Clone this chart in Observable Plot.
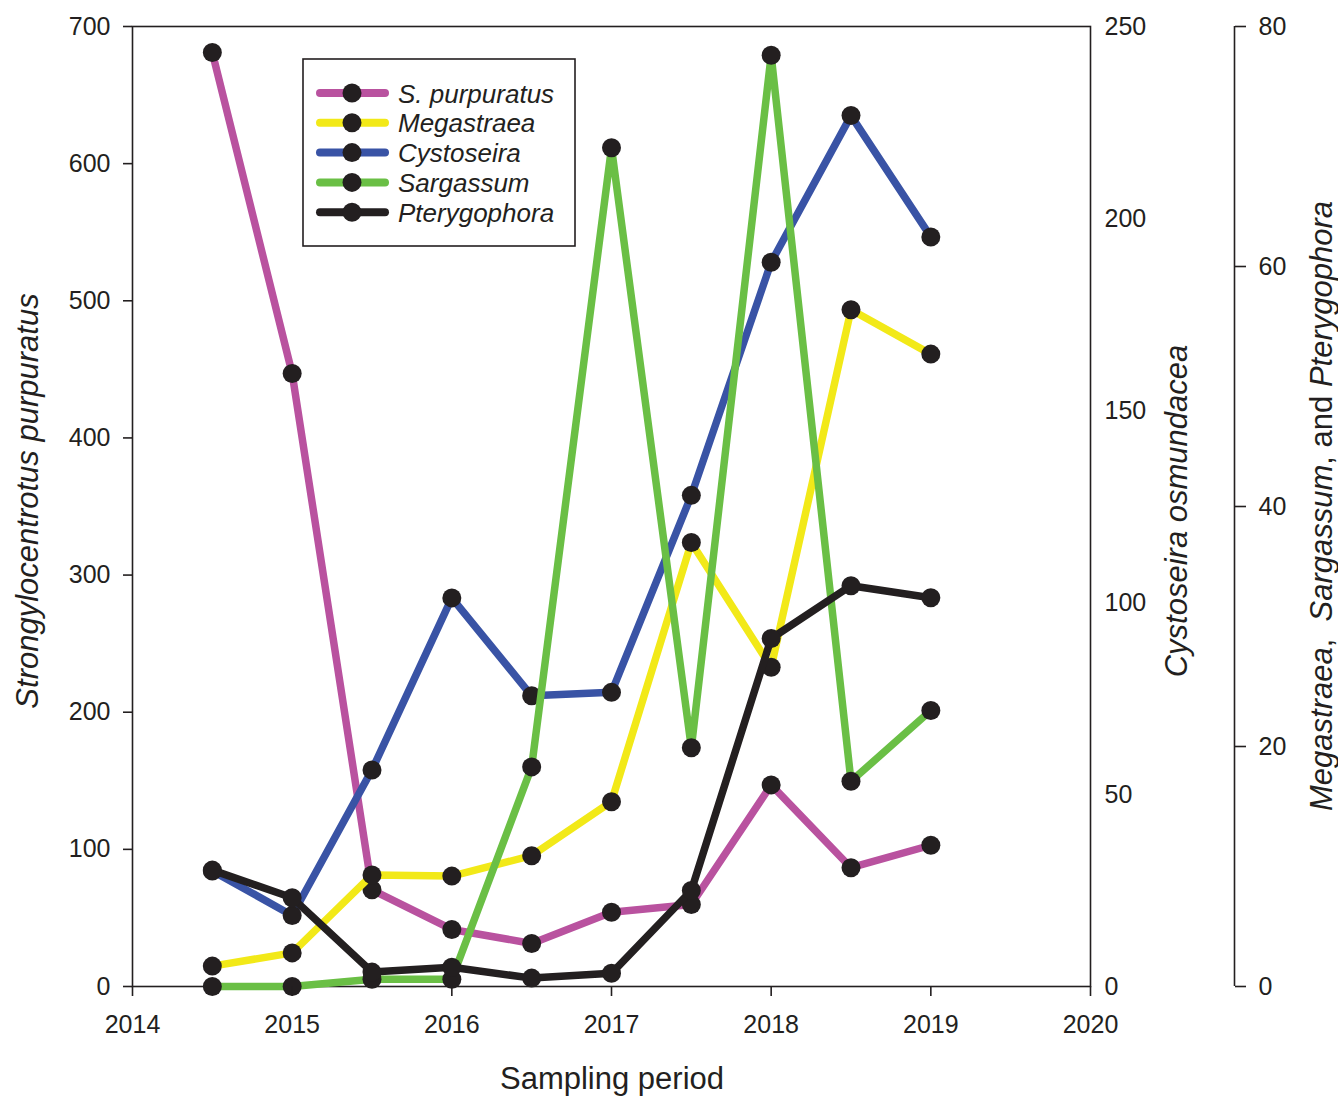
<!DOCTYPE html>
<html><head><meta charset="utf-8">
<script src="https://cdn.jsdelivr.net/npm/d3@7"></script>
<script src="https://cdn.jsdelivr.net/npm/@observablehq/plot@0.6"></script>
<style>
body{margin:0;background:#fff}
#chart svg{font-family:"Liberation Sans",Arial,sans-serif}
</style>
</head><body><div id="chart"></div>
<script>
// ---- data ----
const periods      = [2014.5, 2015, 2015.5, 2016, 2016.5, 2017, 2017.5, 2018, 2018.5, 2019];
const purpuratus   = [681, 447, 70.5, 41.6, 31.4, 54.2, 59.8, 147, 86.6, 103];      // left axis 0-700
const megastraea   = [1.7, 2.8, 9.3, 9.2, 10.9, 15.4, 37.0, 26.6, 56.4, 52.7];      // third axis 0-80
const cystoseira   = [30.1, 18.5, 56.4, 101.2, 75.7, 76.6, 127.9, 188.6, 226.8, 195.2]; // second axis 0-250
const sargassum    = [0, 0, 0.6, 0.6, 18.3, 69.9, 19.9, 77.6, 17.1, 23.0];          // third axis
const pterygophora = [9.7, 7.4, 1.2, 1.6, 0.7, 1.1, 8.0, 29.0, 33.4, 32.4];         // third axis
const xTicks     = [2014, 2015, 2016, 2017, 2018, 2019, 2020];
const leftTicks  = [0, 100, 200, 300, 400, 500, 600, 700];
const cystTicks  = [0, 50, 100, 150, 200, 250];
const thirdTicks = [0, 20, 40, 60, 80];
const seriesNames = ["S. purpuratus", "Megastraea", "Cystoseira", "Sargassum", "Pterygophora"];
const seriesColors = ["#B9529F", "#F2E918", "#3953A5", "#6ABF45", "#231F20"];

const LEFT_MAX = 700, CYST_MAX = 250, THIRD_MAX = 80;
const toLeft = (m) => (v) => v * LEFT_MAX / m;
const seriesValues = [purpuratus, megastraea, cystoseira, sargassum, pterygophora];
const seriesMax = [LEFT_MAX, THIRD_MAX, CYST_MAX, THIRD_MAX, THIRD_MAX];

const rows = [];
seriesNames.forEach((name, i) => {
  seriesValues[i].forEach((v, j) => rows.push({series: name, x: periods[j], v, y: toLeft(seriesMax[i])(v)}));
});

const ink = "#231F20";
const marks = [Plot.frame({stroke: ink, strokeWidth: 1.6})];
seriesNames.forEach((name, i) => {
  const d = rows.filter(r => r.series === name);
  marks.push(Plot.line(d, {x: "x", y: "y", stroke: seriesColors[i], strokeWidth: 7.5, strokeLinejoin: "round"}));
  marks.push(Plot.dot(d, {x: "x", y: "y", r: 9.5, fill: ink, stroke: null}));
});
marks.push(
  Plot.axisY(leftTicks, {anchor: "left", tickSize: 9, tickPadding: 13, fontSize: 25, label: null, stroke: ink, strokeWidth: 1.6}),
  Plot.axisX(xTicks, {anchor: "bottom", tickSize: 10, tickPadding: 19, fontSize: 25, label: null, tickFormat: d => String(d), strokeWidth: 1.6}),
  Plot.axisY(cystTicks.map(toLeft(CYST_MAX)), {anchor: "right", tickSize: 0, tickPadding: 14, fontSize: 25, label: null, tickFormat: d => String(Math.round(d * CYST_MAX / LEFT_MAX))}),
  Plot.ruleX([2020], {dx: 144, y1: 0, y2: LEFT_MAX, stroke: ink, strokeWidth: 1.6}),
  Plot.axisY(thirdTicks.map(toLeft(THIRD_MAX)), {anchor: "right", dx: 144, tickSize: 11, tickPadding: 13, fontSize: 25, label: null, strokeWidth: 1.6, tickFormat: d => String(Math.round(d * THIRD_MAX / LEFT_MAX))})
);

const chart = Plot.plot({
  width: 1338, height: 1097,
  marginLeft: 132, marginRight: 248, marginTop: 26, marginBottom: 111,
  style: {fontFamily: "'Liberation Sans', Arial, sans-serif", fontSize: "25px", color: ink, background: "#fff"},
  x: {domain: [2014, 2020], label: null},
  y: {domain: [0, LEFT_MAX], label: null},
  marks
});
document.getElementById("chart").appendChild(chart);

// ---- titles and legend ----
const svg = d3.select(chart);
const titleFont = 31;
svg.append("text").attr("x", 612).attr("y", 1089).attr("text-anchor", "middle")
  .attr("font-size", titleFont).attr("fill", ink).text("Sampling period");
svg.append("text").attr("transform", "translate(38,501) rotate(-90)").attr("text-anchor", "middle")
  .attr("font-size", titleFont).attr("font-style", "italic").attr("fill", ink).text("Strongylocentrotus purpuratus");
svg.append("text").attr("transform", "translate(1187,511) rotate(-90)").attr("text-anchor", "middle")
  .attr("font-size", titleFont).attr("font-style", "italic").attr("fill", ink).text("Cystoseira osmundacea");
const t3 = svg.append("text").attr("transform", "translate(1332,506) rotate(-90)").attr("text-anchor", "middle")
  .attr("font-size", titleFont).attr("fill", ink).attr("xml:space", "preserve");
[["Megastraea", true], [",  ", false], ["Sargassum", true], [", and ", false], ["Pterygophora", true]]
  .forEach(([s, it]) => t3.append("tspan").attr("font-style", it ? "italic" : "normal").text(s));

const lg = svg.append("g").attr("text-anchor", "start");
lg.append("rect").attr("x", 303).attr("y", 59).attr("width", 272).attr("height", 187)
  .attr("fill", "#fff").attr("stroke", ink).attr("stroke-width", 1.6);
seriesNames.forEach((name, i) => {
  const y = 93 + i * 29.8;
  lg.append("line").attr("x1", 320).attr("x2", 385).attr("y1", y).attr("y2", y)
    .attr("stroke", seriesColors[i]).attr("stroke-width", 8).attr("stroke-linecap", "round");
  lg.append("circle").attr("cx", 352).attr("cy", y).attr("r", 9.5).attr("fill", ink);
  lg.append("text").attr("x", 398).attr("y", y + 9.5).attr("text-anchor", "start").attr("font-size", 26).attr("font-style", "italic")
    .attr("fill", ink).text(name);
});
</script>
</body></html>
